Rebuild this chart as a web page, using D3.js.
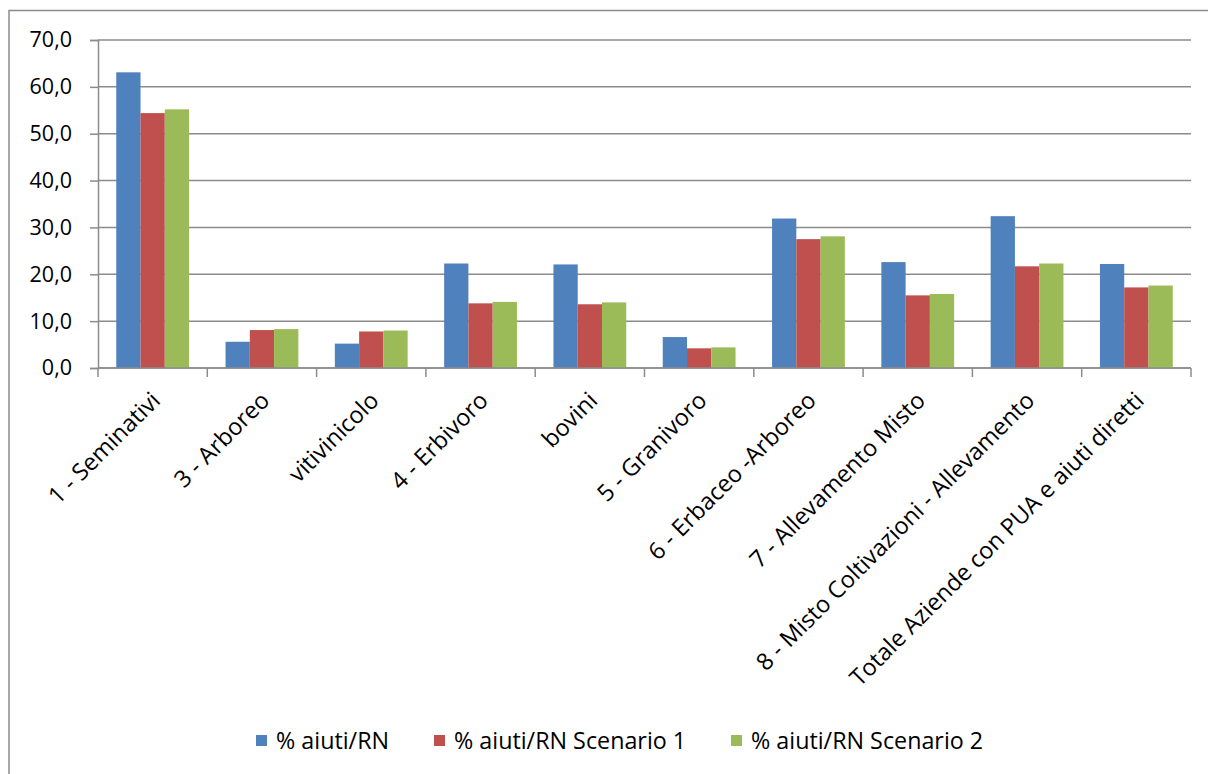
<!DOCTYPE html>
<html>
<head>
<meta charset="utf-8">
<script src="https://cdn.jsdelivr.net/npm/d3@7"></script>
<style>
  html, body { margin: 0; padding: 0; background: #ffffff; }
  svg { display: block; }
  text { font-family: "Open Sans", "Liberation Sans", sans-serif; fill: #000; }
</style>
</head>
<body>
<svg id="chart" width="1208" height="774"></svg>
<script>
// Categories (farm types) along the x axis
const categories = [
  "1 - Seminativi",
  "3 - Arboreo",
  "vitivinicolo",
  "4 - Erbivoro",
  "bovini",
  "5 - Granivoro",
  "6 - Erbaceo -Arboreo",
  "7 - Allevamento Misto",
  "8 - Misto Coltivazioni - Allevamento",
  "Totale Aziende con PUA e aiuti diretti"
];

// Series names and colours
const seriesNames = ["% aiuti/RN", "% aiuti/RN Scenario 1", "% aiuti/RN Scenario 2"];
const seriesColors = ["#4f81bd", "#c0504d", "#9bbb59"];

// Series values (% of aids over net income)
const aiutiRN    = [63.1, 5.6, 5.2, 22.3, 22.1, 6.6, 31.9, 22.6, 32.4, 22.2];
const scenario1  = [54.4, 8.1, 7.8, 13.8, 13.6, 4.2, 27.5, 15.5, 21.7, 17.2];
const scenario2  = [55.2, 8.3, 8.0, 14.1, 14.0, 4.4, 28.1, 15.8, 22.3, 17.6];
const seriesValues = [aiutiRN, scenario1, scenario2];

// Y axis ticks
const yTicks = [0, 10, 20, 30, 40, 50, 60, 70];

const svg = d3.select("#chart");
const grey = "#8c8c8c";

// Chart area frame (left and top edges visible)
svg.append("rect")
  .attr("x", 9).attr("y", 10.5)
  .attr("width", 1240).attr("height", 800)
  .attr("fill", "none").attr("stroke", grey).attr("stroke-width", 1.5);

const plot = { left: 98, right: 1191, top: 40, bottom: 368 };

const x0 = d3.scaleBand().domain(categories).range([plot.left, plot.right]).padding(0);
const x1 = d3.scaleBand().domain(d3.range(seriesNames.length))
  .range([x0.bandwidth() * 0.167, x0.bandwidth() * 0.833]).padding(0);
const y = d3.scaleLinear().domain([0, 70]).range([plot.bottom, plot.top]);

const fmt = v => d3.format(".1f")(v).replace(".", ",");

// Horizontal gridlines
svg.append("g")
  .selectAll("line")
  .data(yTicks)
  .join("line")
  .attr("x1", plot.left).attr("x2", plot.right)
  .attr("y1", d => y(d)).attr("y2", d => y(d))
  .attr("stroke", grey).attr("stroke-width", 1.5);

// Y axis
const yAxis = svg.append("g")
  .attr("transform", `translate(${plot.left},0)`)
  .call(d3.axisLeft(y).tickValues(yTicks).tickFormat(fmt).tickSize(8).tickPadding(18));
yAxis.select(".domain").attr("stroke", grey).attr("stroke-width", 1.5);
yAxis.selectAll(".tick line").attr("stroke", grey).attr("stroke-width", 1.5);
yAxis.selectAll(".tick text")
  .attr("font-size", 21.5)
  .attr("font-family", "\"Open Sans\", sans-serif")
  .attr("fill", "#000");

// Bars
const groups = svg.append("g")
  .selectAll("g")
  .data(categories)
  .join("g")
  .attr("transform", d => `translate(${x0(d)},0)`);

groups.selectAll("rect")
  .data((d, i) => seriesValues.map((vals, s) => ({ s, v: vals[i] })))
  .join("rect")
  .attr("x", d => x1(d.s))
  .attr("width", x1.bandwidth())
  .attr("y", d => y(d.v))
  .attr("height", d => y(0) - y(d.v))
  .attr("fill", d => seriesColors[d.s]);

// X axis with category boundary ticks
const xAxis = svg.append("g").attr("transform", `translate(0,${plot.bottom})`);
xAxis.append("line")
  .attr("x1", plot.left).attr("x2", plot.right)
  .attr("stroke", grey).attr("stroke-width", 1.5);
const bounds = categories.map(c => x0(c)).concat([plot.right]);
xAxis.selectAll("line.tk")
  .data(bounds)
  .join("line")
  .attr("class", "tk")
  .attr("x1", d => d).attr("x2", d => d)
  .attr("y1", 0).attr("y2", 9)
  .attr("stroke", grey).attr("stroke-width", 1.5);

// Rotated category labels
xAxis.selectAll("text")
  .data(categories)
  .join("text")
  .attr("text-anchor", "end")
  .attr("font-size", 23.5)
  .attr("transform", d => `translate(${x0(d) + x0.bandwidth() / 2 + 9},${34}) rotate(-45)`)
  .text(d => d);

// Legend
const legendItems = [
  { name: seriesNames[0], color: seriesColors[0], x: 256 },
  { name: seriesNames[1], color: seriesColors[1], x: 434 },
  { name: seriesNames[2], color: seriesColors[2], x: 731 }
];
const legend = svg.append("g").attr("transform", "translate(0,735)");
legend.selectAll("rect")
  .data(legendItems)
  .join("rect")
  .attr("x", d => d.x).attr("y", 0)
  .attr("width", 11).attr("height", 11)
  .attr("fill", d => d.color);
legend.selectAll("text")
  .data(legendItems)
  .join("text")
  .attr("x", d => d.x + 20).attr("y", 14)
  .attr("font-size", 23.3)
  .text(d => d.name);
</script>
</body>
</html>
